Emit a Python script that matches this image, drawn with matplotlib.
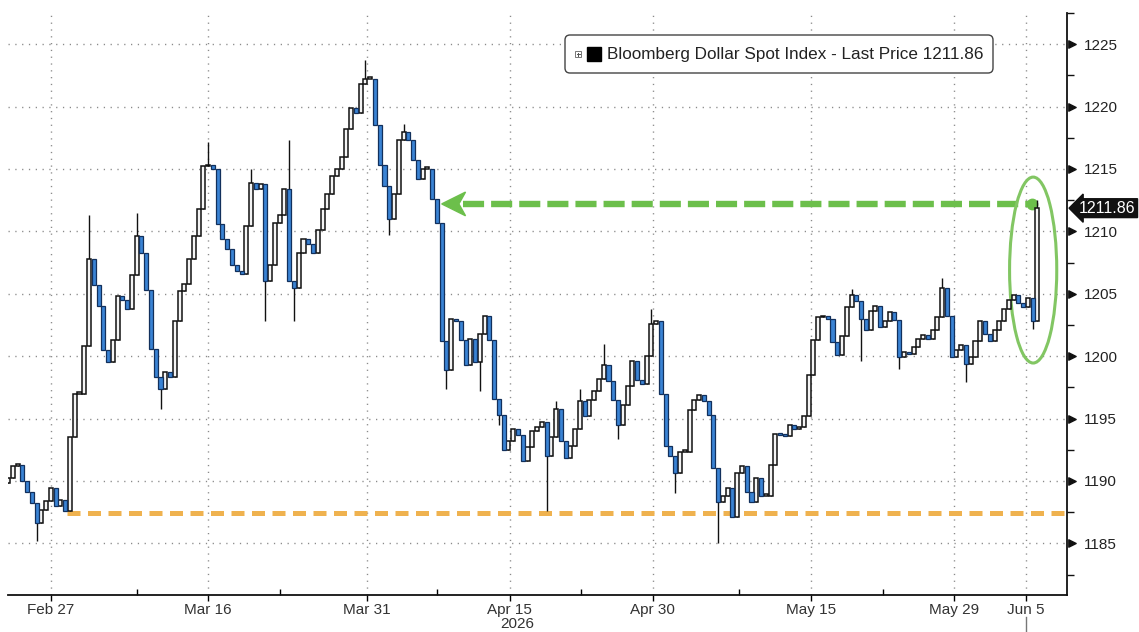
import matplotlib
matplotlib.use("Agg")
import matplotlib.pyplot as plt
import matplotlib.transforms as mtransforms
from matplotlib.patches import Ellipse, FancyBboxPatch, Rectangle, Polygon
from matplotlib.lines import Line2D

# ───── DATA (3 bars per trading day) ─────────────────────────────
first_open = 1189.8
closes = [
    1190.2, 1191.2, 1191.3, 1190.0, 1189.1, 1188.2, 1186.6, 1187.7, 1188.4, 1189.4, 1188.0, 1188.5,
    1187.6, 1193.5, 1197.0, 1197.0, 1200.8, 1207.8, 1205.7, 1204.0, 1200.5, 1199.5, 1201.3, 1204.8,
    1204.5, 1203.8, 1206.5, 1209.6, 1208.3, 1205.3, 1200.6, 1198.3, 1197.4, 1198.7, 1198.3, 1202.8,
    1205.2, 1205.8, 1207.8, 1209.6, 1211.8, 1215.2, 1215.3, 1215.0, 1210.6, 1209.4, 1208.6, 1207.3,
    1206.8, 1206.6, 1210.4, 1213.9, 1213.4, 1213.8, 1206.0, 1207.3, 1210.7, 1211.3, 1213.4, 1206.0,
    1205.5, 1208.3, 1209.4, 1209.0, 1208.3, 1210.1, 1211.8, 1213.0, 1214.4, 1215.0, 1216.0, 1218.2,
    1219.9, 1219.5, 1221.8, 1222.2, 1222.2, 1218.5, 1215.3, 1213.6, 1211.0, 1213.0, 1217.3, 1218.0,
    1217.3, 1215.7, 1214.2, 1215.0, 1215.0, 1212.6, 1210.7, 1201.2, 1198.9, 1203.0, 1202.8, 1201.3,
    1199.3, 1201.4, 1199.5, 1201.8, 1203.2, 1201.3, 1196.6, 1195.3, 1192.5, 1193.2, 1194.2, 1193.7,
    1191.6, 1192.7, 1194.0, 1194.3, 1194.7, 1192.0, 1193.5, 1195.8, 1193.2, 1191.8, 1192.8, 1194.2,
    1196.4, 1195.2, 1196.5, 1197.2, 1198.2, 1199.3, 1198.0, 1196.5, 1194.5, 1196.1, 1197.6, 1199.6,
    1198.1, 1197.8, 1200.0, 1202.6, 1202.8, 1197.0, 1192.8, 1192.0, 1190.6, 1192.3, 1192.3, 1195.7,
    1196.5, 1196.9, 1196.4, 1195.3, 1191.0, 1188.3, 1188.8, 1189.4, 1187.1, 1190.6, 1191.2, 1189.1,
    1188.3, 1190.2, 1188.8, 1188.8, 1191.3, 1193.8, 1193.7, 1193.6, 1194.5, 1194.2, 1194.3, 1195.2,
    1198.5, 1201.3, 1203.1, 1203.2, 1203.0, 1201.1, 1200.1, 1201.6, 1203.9, 1204.9, 1204.4, 1203.0,
    1202.1, 1203.6, 1204.0, 1202.3, 1202.8, 1203.5, 1202.9, 1199.9, 1200.3, 1200.2, 1200.7, 1201.4,
    1201.7, 1201.4, 1202.1, 1203.1, 1205.5, 1203.2, 1199.9, 1200.5, 1200.9, 1199.4, 1199.9, 1201.2,
    1202.8, 1201.8, 1201.2, 1202.1, 1202.8, 1203.8, 1204.5, 1204.9, 1204.3, 1203.9, 1204.7, 1202.8,
    1211.86,
]
# intraday extremes that poke out beyond the bodies
wick_high = {17: 1211.3, 27: 1211.5, 42: 1217.2, 51: 1215.0, 59: 1217.3, 75: 1223.7, 83: 1218.6,
             115: 1196.4, 120: 1197.4, 125: 1201.0, 135: 1203.8, 177: 1205.4, 196: 1206.3, 216: 1212.5}
wick_low = {6: 1185.2, 32: 1195.8, 54: 1202.8, 60: 1202.8, 80: 1209.7, 92: 1197.4, 99: 1197.2,
            103: 1194.5, 113: 1187.6, 128: 1193.4, 140: 1189.0, 149: 1185.0, 179: 1199.6,
            187: 1199.0, 201: 1197.9, 215: 1202.2}

date_labels = ["Feb 27", "Mar 16", "Mar 31", "Apr 15", "Apr 30", "May 15", "May 29", "Jun 5"]
date_bars = [9.0, 42.0, 75.3, 105.3, 135.3, 168.4, 198.4, 213.6]
minor_bars = [27.1, 57.1, 90.0, 120.2, 153.3, 183.6]
y_major = [1185, 1190, 1195, 1200, 1205, 1210, 1215, 1220, 1225]

support_level = 1187.4     # orange dashed line
support_from_bar = 12.4
prior_level = 1212.2       # green arrow level
prior_bar = 91.0
series_name = "Bloomberg Dollar Spot Index - Last Price"
# ───────────────────────────────────────────────────────────────

plt.rcParams["font.family"] = ["Liberation Sans", "DejaVu Sans"]

last_price = closes[-1]
n = len(closes)
opens = [first_open] + closes[:-1]
highs = [max(o, c) for o, c in zip(opens, closes)]
lows = [min(o, c) for o, c in zip(opens, closes)]
for k, v in wick_high.items():
    highs[k] = v
for k, v in wick_low.items():
    lows[k] = v

W, H = 1139, 632
fig = plt.figure(figsize=(W / 100, H / 100), dpi=100)
ax = fig.add_axes([8 / W, 1 - 595 / H, (1067 - 8) / W, (595 - 13) / H])
XMAX = 222.2
ax.set_xlim(0, XMAX)
ax.set_ylim(1180.86, 1227.23)

# grid
grid_style = dict(color="#8a8a8a", linestyle=(0, (0.9, 4.0)), linewidth=1.0, zorder=0)
for yv in y_major:
    ax.axhline(yv, **grid_style)
for xv in date_bars:
    ax.axvline(xv, **grid_style)

# support (orange) and prior-level arrow (green)
ax.plot([support_from_bar, XMAX], [support_level, support_level], color="#efb24f",
        lw=3.6, dashes=(2.6, 1.5), solid_capstyle="butt", zorder=2)
ax.plot([prior_bar + 4.5, n - 2.2], [prior_level, prior_level], color="#6cbf4b",
        lw=4.6, dashes=(3.3, 1.1), zorder=2)
ax.add_patch(Polygon([(prior_bar, prior_level), (prior_bar + 5.0, prior_level + 0.95),
                      (prior_bar + 3.6, prior_level), (prior_bar + 5.0, prior_level - 0.95)],
                     closed=True, color="#6cbf4b", zorder=2))
ax.plot([n - 2.2], [prior_level], "o", color="#6cbf4b", ms=7.5, zorder=2)
ax.add_patch(Ellipse((n - 1.9, 1206.9), width=9.9, height=14.9, fill=False,
                     ec="#82c663", lw=2.2, zorder=2))

# candles
xs = list(range(n))
ax.vlines(xs, lows, highs, color="#111111", lw=1.0, zorder=3)
up = [c >= o for o, c in zip(opens, closes)]
body_lo = [min(o, c) for o, c in zip(opens, closes)]
body_h = [max(abs(c - o), 0.15) for o, c in zip(opens, closes)]
ax.bar([x for x, u in zip(xs, up) if u], [h for h, u in zip(body_h, up) if u],
       bottom=[b for b, u in zip(body_lo, up) if u], width=0.85,
       color="#f4f4f4", edgecolor="#111111", linewidth=1.1, zorder=4)
ax.bar([x for x, u in zip(xs, up) if not u], [h for h, u in zip(body_h, up) if not u],
       bottom=[b for b, u in zip(body_lo, up) if not u], width=0.85,
       color="#3a83d4", edgecolor="#12305c", linewidth=0.9, zorder=4)

# axes styling
for s in ["left", "top"]:
    ax.spines[s].set_visible(False)
for s in ["right", "bottom"]:
    ax.spines[s].set_linewidth(1.3)
    ax.spines[s].set_color("#111111")

ax.yaxis.tick_right()
ax.set_yticks(y_major)
ax.set_yticks([v + 2.5 for v in [1180] + y_major], minor=True)
ax.tick_params(axis="y", which="major", length=0, pad=12, labelsize=11, labelcolor="#222222")
ax.tick_params(axis="y", which="minor", length=5, width=1.0, direction="out", color="#111111")

ax.set_xticks(date_bars)
ax.set_xticklabels(date_labels)
ax.set_xticks(minor_bars, minor=True)
ax.tick_params(axis="x", which="major", length=4, width=1.0, direction="out", pad=2,
               labelsize=11, labelcolor="#333333")
ax.tick_params(axis="x", which="minor", length=4, width=1.0, direction="in")

# triangular major tick markers on the price axis
tri = mtransforms.blended_transform_factory(ax.transAxes, ax.transData) + \
    mtransforms.ScaledTranslation(5 / 100, 0, fig.dpi_scale_trans)
ax.scatter([1.0] * len(y_major), y_major, marker=">", s=28, color="#111111",
           transform=tri, clip_on=False, zorder=5)

# last price tag
tag = mtransforms.blended_transform_factory(ax.transAxes, ax.transData) + \
    mtransforms.ScaledTranslation(12 / 100, 0, fig.dpi_scale_trans)
ax.text(1.0, last_price, f"{last_price:.2f}", transform=tag, ha="left", va="center",
        fontsize=11.5, color="white", clip_on=False,
        bbox=dict(boxstyle="larrow,pad=0.12", fc="#111111", ec="#111111"))

# legend box
fig.patches.append(FancyBboxPatch((565 / W, 1 - 73 / H), (993 - 565) / W, (73 - 35) / H,
                                  boxstyle=f"round,pad=0,rounding_size={5 / W}",
                                  mutation_aspect=W / H, transform=fig.transFigure,
                                  fc="white", ec="#444444", lw=1.0, zorder=10))
fig.patches.append(Rectangle((575 / W, 1 - 57 / H), 6 / W, 6 / H, transform=fig.transFigure,
                             fc="white", ec="#777777", lw=0.7, zorder=11))
fig.lines.append(Line2D([576.5 / W, 579.5 / W], [1 - 54 / H] * 2, transform=fig.transFigure,
                        color="#555555", lw=0.7, zorder=12))
fig.lines.append(Line2D([578 / W] * 2, [1 - 52.5 / H, 1 - 55.5 / H], transform=fig.transFigure,
                        color="#555555", lw=0.7, zorder=12))
fig.patches.append(Rectangle((587 / W, 1 - 61 / H), 14 / W, 14 / H, transform=fig.transFigure,
                             fc="black", ec="black", zorder=11))
fig.text(607 / W, 1 - 54 / H, f"{series_name} {last_price:.2f}", ha="left", va="center",
         fontsize=12.3, color="#222222", zorder=12)

# year label and last-date marker under the axis
fig.text(517 / W, 1 - 624 / H, "2026", ha="center", va="center", fontsize=11, color="#333333")
fig.lines.append(Line2D([1026 / W] * 2, [0, 1 - 617 / H], transform=fig.transFigure,
                        color="#777777", lw=1.0))

fig.savefig("out.png", dpi=100)
